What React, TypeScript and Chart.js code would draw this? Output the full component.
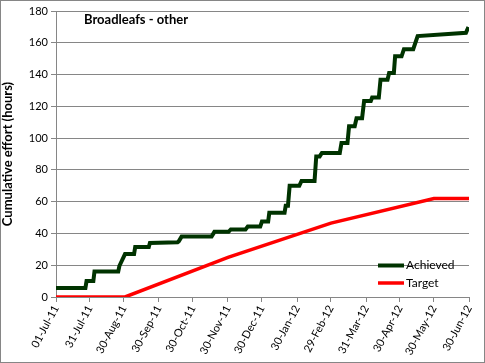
import { useEffect, useRef } from "react";
import { Chart, registerables } from "chart.js";

Chart.register(...registerables);

// Day offsets from 01-Jul-2011
const tickDays = [0, 30, 60, 91, 121, 152, 182, 213, 243, 274, 304, 334, 365];
const tickLabels = [
  "01-Jul-11", "31-Jul-11", "30-Aug-11", "30-Sep-11", "30-Oct-11", "30-Nov-11",
  "30-Dec-11", "30-Jan-12", "29-Feb-12", "31-Mar-12", "30-Apr-12", "30-May-12", "30-Jun-12",
];

const achievedDays = [
  0, 26, 27, 33, 34, 55, 56, 61, 69, 70,
  82, 83, 107.5, 108.5, 111, 137.5, 140, 152.5, 154.5, 167.5,
  169.5, 180.5, 182, 187.5, 188.5, 202, 203, 205, 206.5, 215,
  217, 228.5, 230, 233, 235, 250.8, 252.3, 257.6, 259, 264,
  265.6, 270.5, 272.3, 278.2, 279.4, 285.3, 286.8, 293, 294.4, 298.6,
  299.7, 305.4, 307.5, 315.7, 319.6, 362.3, 364.5,
];
const achievedHours = [
  5.7, 5.7, 10, 10, 16, 16, 19.5, 27, 27, 31.5,
  31.5, 34, 34.5, 35, 38, 38, 41, 41, 42.5, 42.5,
  44.3, 44.3, 47.5, 47.5, 53, 53, 57.5, 57.5, 70, 70,
  73, 73, 88.5, 88.5, 90.7, 90.7, 97, 97, 107.5, 107.5,
  112.5, 112.5, 123.3, 123.3, 125.6, 125.6, 136.8, 136.8, 141, 141,
  151.5, 151.5, 156, 156, 164.2, 166.3, 169.9,
];

const targetDays = [0, 61, 152, 243, 334, 365];
const targetHours = [0, 0, 25, 46.5, 62, 62];

const chartTitle = "Broadleafs - other";
const yAxisTitle = "Cumulative effort (hours)";
const seriesNames = ["Achieved", "Target"];
const seriesColors = ["#003300", "#ff0000"];

const FONT = "Lato, 'Open Sans', sans-serif";
const GRID = "#868686";

const decorPlugin = {
  id: "decor",
  afterDraw(chart: any) {
    const { ctx, chartArea } = chart;
    ctx.save();
    // outer border
    ctx.strokeStyle = GRID;
    ctx.lineWidth = 1;
    ctx.strokeRect(0.5, 0.5, chart.width - 1, chart.height - 1);
    // title inside plot
    ctx.fillStyle = "#000";
    ctx.font = `bold 13px ${FONT}`;
    ctx.textBaseline = "middle";
    ctx.textAlign = "left";
    ctx.fillText(chartTitle, chartArea.left + 28, chartArea.top + 9);
    // legend
    const ys = [chartArea.bottom - 31.5, chartArea.bottom - 14];
    chart.data.datasets.forEach((ds: any, i: number) => {
      const x1 = chartArea.right - 91;
      const x2 = chartArea.right - 65;
      ctx.strokeStyle = ds.borderColor;
      ctx.lineWidth = ds.borderWidth;
      ctx.beginPath();
      ctx.moveTo(x1, ys[i]);
      ctx.lineTo(x2, ys[i]);
      ctx.stroke();
      ctx.fillStyle = "#000";
      ctx.font = `12px ${FONT}`;
      ctx.fillText(ds.label, x2 + 2, ys[i]);
    });
    ctx.restore();
  },
};

export default function App() {
  const ref = useRef<HTMLCanvasElement>(null);
  useEffect(() => {
    document.body.style.margin = "0";
    const canvas = ref.current!;
    const chart = new Chart(canvas, {
      type: "line",
      data: {
        datasets: [
          {
            label: seriesNames[0],
            data: achievedDays.map((d, i) => ({ x: d, y: achievedHours[i] })),
            borderColor: seriesColors[0],
            borderWidth: 4,
            pointRadius: 0,
            tension: 0,
          },
          {
            label: seriesNames[1],
            data: targetDays.map((d, i) => ({ x: d, y: targetHours[i] })),
            borderColor: seriesColors[1],
            borderWidth: 3.5,
            pointRadius: 0,
            tension: 0,
          },
        ],
      },
      options: {
        animation: false,
        responsive: false,
        layout: { padding: { left: 0, top: 11, right: 16, bottom: 0 } },
        plugins: {
          legend: { display: false },
          tooltip: { enabled: false },
          title: { display: false },
        },
        scales: {
          x: {
            type: "linear",
            min: 0,
            max: 365,
            afterBuildTicks: (s: any) => {
              s.ticks = tickDays.map((v) => ({ value: v }));
            },
            afterFit: (s: any) => {
              s.height = 66;
            },
            ticks: {
              autoSkip: false,
              minRotation: 62,
              maxRotation: 62,
              padding: 1,
              color: "#000",
              font: { family: FONT, size: 11 },
              callback: (_v: any, i: number) => tickLabels[i],
            },
            grid: {
              display: true,
              drawOnChartArea: false,
              drawTicks: true,
              tickLength: 5,
              color: GRID,
            },
            border: { display: true, color: GRID, width: 1 },
          },
          y: {
            min: 0,
            max: 180,
            afterFit: (s: any) => {
              s.width = 56;
            },
            ticks: {
              stepSize: 20,
              padding: 3,
              color: "#000",
              font: { family: FONT, size: 11 },
            },
            grid: { color: GRID, tickLength: 5 },
            border: { display: true, color: GRID, width: 1 },
            title: {
              display: true,
              text: yAxisTitle,
              color: "#000",
              font: { family: FONT, size: 13, weight: "bold" },
              padding: { top: 0, bottom: 2 },
            },
          },
        },
      },
      plugins: [decorPlugin],
    });
    return () => chart.destroy();
  }, []);
  return (
    <div style={{ width: 485, height: 363 }}>
      <canvas ref={ref} width={485} height={363} style={{ display: "block" }} />
    </div>
  );
}
